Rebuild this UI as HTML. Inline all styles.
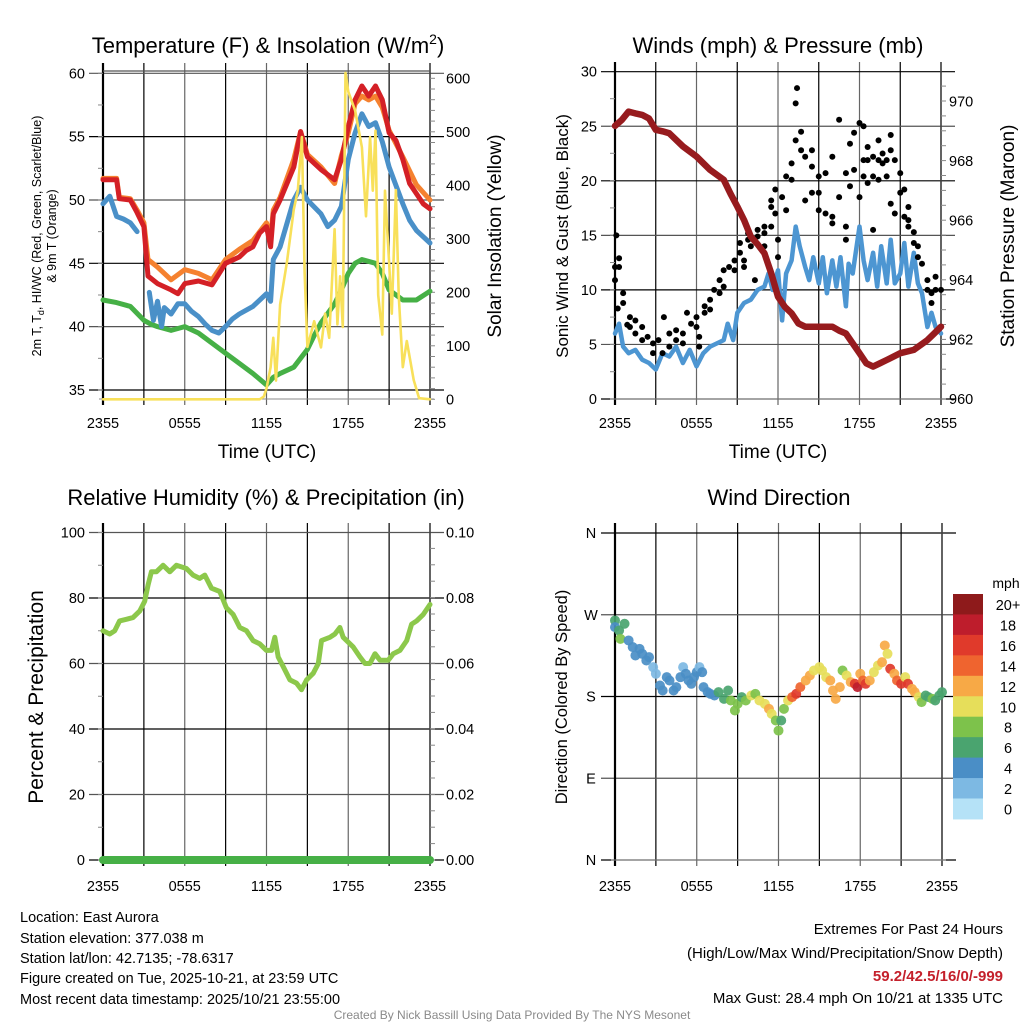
<!DOCTYPE html>
<html><head><meta charset="utf-8"><title>East Aurora Meteogram</title>
<style>
html,body{margin:0;padding:0;background:#fff;}
svg{display:block;font-family:"Liberation Sans",Arial,sans-serif;}
</style></head>
<body>
<svg id="chart" width="1024" height="1024" viewBox="0 0 1024 1024" xmlns="http://www.w3.org/2000/svg">
<rect x="0" y="0" width="1024" height="1024" fill="#fff"/>
<text x="268" y="53" font-size="22" text-anchor="middle">Temperature (F) &amp; Insolation (W/m<tspan dy="-9" font-size="14">2</tspan><tspan dy="9">)</tspan></text>
<text x="778" y="53" font-size="22" text-anchor="middle">Winds (mph) &amp; Pressure (mb)</text>
<text x="266" y="505" font-size="22" text-anchor="middle">Relative Humidity (%) &amp; Precipitation (in)</text>
<text x="779" y="505" font-size="22" text-anchor="middle">Wind Direction</text>
<g font-size="12.5">
<text transform="translate(41,236) rotate(-90)" text-anchor="middle">2m T, T<tspan dy="3" font-size="9">d</tspan><tspan dy="-3">, HI/WC (Red, Green, Scarlet/Blue)</tspan></text>
<text transform="translate(56,236) rotate(-90)" text-anchor="middle">&amp; 9m T (Orange)</text>
</g>
<text transform="translate(501,236) rotate(-90)" font-size="19" text-anchor="middle">Solar Insolation (Yellow)</text>
<text transform="translate(568,236) rotate(-90)" font-size="17" text-anchor="middle">Sonic Wind &amp; Gust (Blue, Black)</text>
<text transform="translate(1014,236) rotate(-90)" font-size="19" text-anchor="middle">Station Pressure (Maroon)</text>
<text transform="translate(43,697) rotate(-90)" font-size="21" text-anchor="middle">Percent &amp; Precipitation</text>
<text transform="translate(567,697) rotate(-90)" font-size="16.5" text-anchor="middle">Direction (Colored By Speed)</text>
<text x="267" y="458" font-size="19" text-anchor="middle">Time (UTC)</text>
<text x="778" y="458" font-size="19" text-anchor="middle">Time (UTC)</text>
<g font-size="14.5">
<text x="20" y="922">Location: East Aurora</text>
<text x="20" y="943">Station elevation: 377.038 m</text>
<text x="20" y="963">Station lat/lon: 42.7135; -78.6317</text>
<text x="20" y="983">Figure created on Tue, 2025-10-21, at 23:59 UTC</text>
<text x="20" y="1004">Most recent data timestamp: 2025/10/21 23:55:00</text>
</g>
<g font-size="15" text-anchor="end">
<text x="1003" y="934">Extremes For Past 24 Hours</text>
<text x="1003" y="958">(High/Low/Max Wind/Precipitation/Snow Depth)</text>
<text x="1003" y="981" fill="#c4202b" font-weight="bold">59.2/42.5/16/0/-999</text>
<text x="1003" y="1003">Max Gust: 28.4 mph On 10/21 at 1335 UTC</text>
</g>
<text x="512" y="1019" font-size="12" fill="#8a8a8a" text-anchor="middle">Created By Nick Bassill Using Data Provided By The NYS Mesonet</text>
<text x="1006" y="588" font-size="14" text-anchor="middle">mph</text>
</svg>
<script>
// ---------- DATA ----------
const tickLabelsX = ["2355","0555","1155","1755","2355"];
const tempTicks = [35,40,45,50,55,60];
const solarTicks = [0,100,200,300,400,500,600];
const windTicks = [0,5,10,15,20,25,30];
const pressTicks = [960,962,964,966,968,970];
const rhTicks = [0,20,40,60,80,100];
const precipTicks = ["0.00","0.02","0.04","0.06","0.08","0.10"];
const dirTickLabels = ["N","E","S","W","N"];
const speedBinLabels = ["0","2","4","6","8","10","12","14","16","18","20+"];
const speedBinColors = ["#b5e2f7","#7db9e3","#4a8ec6","#4aa46f","#7dc24b","#e6de5a","#f7a946","#ef642f","#e03a2b","#be1d2c","#8e1a1b"];

const redTimes = [0,1,1.2,2,2.5,3,3.3,4,5,5.5,6,7,8,9,10,10.5,11,11.5,12,12.3,12.5,13,14,14.5,15,16,17,17.5,18,18.5,19,19.5,20,20.5,21,21.5,22,22.5,23,23.5,24];
const redTemp = [51.6,51.6,50.1,50,49,47.9,44,43.4,42.9,42.6,43.4,43.6,43.3,45,45.5,46,46.3,47.4,47.9,46.3,48.9,50,52.6,55.4,53.4,52.4,51.6,53.2,55.8,57.9,59,58.2,59,57.9,55.3,54.7,53.2,51.3,50.5,49.7,49.3];
const orangeTimes = [0,1,1.2,2,2.5,3,3.3,4,5,6,7,8,9,10,11,12,12.3,12.5,13,14,14.5,15,16,17,17.5,18,18.5,19,19.5,20,20.5,21,22,23,24];
const orangeTemp = [51.7,51.7,50.2,50.1,49.2,48.2,45.3,44.7,43.7,44.5,44.2,43.7,45.3,46.1,46.8,48.2,47,49.2,50.2,53.2,55.4,53.6,52.6,51.3,53.5,55.3,57.6,58.2,57.9,58.2,57.3,55.5,53.4,51.2,50];
const blueTimes = [0,0.5,1,1.5,2,2.5,3.4,3.7,4,4.3,4.5,5,5.5,6,6.5,7,7.5,8,8.5,9,9.5,10,11,12,12.3,12.5,13,14,14.5,15,16,16.5,17,17.5,18,18.5,19,19.5,20,20.5,21,22,22.5,23,24];
const blueTemp = [49.7,50.3,48.7,48.5,48.2,47.5,42.7,40.5,42,40,41.5,41,41.8,41.8,41.2,40.8,40.2,39.7,39.5,40,40.6,41,41.6,42.6,42,45.3,46.3,50,51,50,48.9,47.9,48.4,49.5,53.2,55.3,56.8,55.8,56.1,54.6,52.6,49.7,48.4,47.6,46.6];
const greenTimes = [0,1,2,3,3.5,4,5,6,7,8,9,10,11,12,12.5,13,14,15,15.5,16,17,17.5,18,18.5,19,20,20.5,21,22,23,24];
const greenDew = [42.1,41.9,41.6,40.5,40.2,40,39.7,40,39.5,38.7,37.9,37.1,36.3,35.4,36,36.3,36.8,38.2,39.3,40.3,41.8,42.9,44.2,45,45.3,45,44.2,42.9,42.1,42.1,42.8];
const solarTimes = [0,11.5,11.8,12,12.3,12.5,12.7,13,13.5,14,14.3,14.6,14.8,15,15.5,16,16.3,16.6,17,17.2,17.4,17.6,17.8,18,18.5,19,19.3,19.6,19.8,20,20.2,20.5,20.7,21,21.2,21.5,21.7,22,22.3,22.8,23.2,24];
const solarVals = [0,0,5,20,60,115,35,177,256,355,390,490,238,98,146,97,160,115,318,140,230,135,610,575,540,471,342,490,390,502,195,121,390,256,160,391,195,60,109,36,2,0];

const windTimes = [0,0.3,0.6,1,1.5,2,2.5,3,3.5,4,4.5,5,5.5,6,6.5,7,7.5,8,8.3,8.7,9,9.5,10,10.5,11,11.3,11.6,12,12.3,12.6,13,13.3,13.6,14,14.3,14.6,15,15.3,15.6,16,16.3,16.6,17,17.2,17.5,18,18.3,18.6,19,19.3,19.6,20,20.3,20.6,21,21.3,21.6,22,22.3,22.6,23,23.3,23.6,24];
const windSpeed = [6.0,6.9,4.8,4.2,4.5,3.6,3.3,2.7,4.2,3.9,4.8,3.3,4.5,3.0,4.2,4.8,5.1,5.4,6.9,5.4,7.9,8.8,9.1,10.0,10.3,11.5,10.0,11.8,7.2,11.5,12.7,15.8,14.0,12.1,10.9,13.0,10.6,13.0,9.7,12.7,10.3,13.0,8.5,12.4,11.5,15.8,12.7,10.9,13.4,10.3,14.0,10.6,14.6,10.6,11.5,14.3,10.3,13.4,10.6,9.7,6.6,7.9,6.6,6.0];
const gustTimes = [0,0,0.1,0.2,0.3,0.3,0.6,0.6,0.9,1.1,1.1,1.5,1.5,2,2,2.4,2.8,2.8,3.2,3.5,3.6,4,4,4.5,4.5,5,5,5.3,5.6,6,6,6.2,6.2,6.6,6.6,7,7,7.3,7.7,7.7,8,8,8.4,8.8,8.8,9.2,9.2,9.5,9.5,9.8,9.8,10,10.3,10.5,10.5,11,11,11,11.5,11.5,11.5,11.8,11.8,12,12,12.3,12.6,12.6,13,13,13.3,13.3,13.4,13.7,13.7,14,14,14.5,14.5,14.5,15,15,15,15.5,15.5,16,16,16,16.5,16.5,17,17,17,17.3,17.3,17.6,17.6,18,18,18.3,18.3,18.3,18.6,18.6,18.6,19,19,19,19.4,19.4,19.4,19.7,19.7,20,20,20.3,20.3,20.3,20.6,20.6,21,21,21.3,21.3,21.6,21.6,21.6,22,22,22.3,22.3,22.6,23,23,23.3,23.3,23.6,23.6,24];
const gustSpeed = [12.1,10.9,15.0,8.3,12.9,12.1,9.7,8.8,6.8,7.5,6.6,7.2,6.0,6.6,5.4,5.7,5.1,4.2,5.4,4.2,7.5,6.0,4.8,5.4,6.3,5.1,6.0,7.9,6.9,7.5,6.6,5.7,4.8,8.5,7.9,9.1,8.2,10.0,10.9,9.7,11.8,10.3,12.1,12.7,11.8,14.3,13.4,12.7,12.1,15.2,14.6,14.0,10.9,15.5,14.9,15.8,15.2,14.0,18.2,17.6,15.8,19.2,17.0,14.6,13.0,18.5,20.4,17.3,21.6,20.1,23.7,27.1,28.5,24.5,22.8,22.2,18.2,21.3,22.8,18.9,20.4,18.9,17.3,17.0,20.7,16.7,16.1,22.2,18.5,25.6,20.7,15.8,14.6,23.4,19.5,24.4,21.0,25.3,18.5,25.0,21.9,20.4,23.1,21.9,19.8,22.2,20.4,15.5,23.7,21.9,20.1,21.6,22.5,20.4,21.9,24.2,22.8,17.9,21.9,17.0,18.9,20.7,19.2,16.7,17.6,16.4,15.8,15.3,14.3,14.0,13.0,12.4,10.0,10.9,9.7,8.8,11.2,10.0,10.0];
const pressTimes = [0,0.5,1,1.5,2,2.5,3,3.5,4,5,6,7,8,8.5,9,9.5,10,10.5,11,11.5,12,12.5,13,13.5,14,15,16,16.5,17,18,18.5,19,19.5,20,21,22,23,23.5,24];
const pressVals = [969.18,969.38,969.66,969.6,969.55,969.43,969.05,969.0,968.93,968.49,968.15,967.7,967.37,966.9,966.47,966.02,965.46,965.2,964.9,964.23,963.44,963.1,962.88,962.54,962.43,962.43,962.43,962.3,962.2,961.54,961.2,961.09,961.2,961.31,961.54,961.65,961.98,962.2,962.43];

const rhTimes = [0,0.49,0.86,1.22,1.71,2.2,2.69,3.06,3.31,3.55,3.92,4.41,4.9,5.39,6.12,6.61,7.1,7.47,7.96,8.57,9.06,9.55,10.04,10.53,11.02,11.51,12,12.37,12.61,12.86,13.23,13.72,14.2,14.57,14.94,15.43,15.8,16.04,16.65,17.02,17.39,17.63,18.37,18.86,19.23,19.59,19.96,20.33,20.94,21.31,21.8,22.29,22.65,23.02,23.51,24];
const rhVals = [70,69,70,73,73.5,74,76,79,84,88,88,90,88,90,89,87,86,87,83,82,77,75,71,70,67,66,64,64,68,62,59,55,54,52,55,57,60,67,68,69,71,68,65,62,60,60,63,61,61,63,64,67,72,73,75,78];
const precipTimes = [0,24];
const precipVals = [0,0];

const dirTimes = [0,0,0.3,0.4,0.7,1,1.3,1.5,1.8,2,2.3,2.5,2.8,3,3.3,3.5,3.8,4,4.3,4.5,4.8,5,5.2,5.4,5.6,5.8,6,6.2,6.4,6.5,6.8,7,7.3,7.6,8,8.3,8.5,8.8,9,9.3,9.6,10,10.3,10.6,11,11.3,11.5,11.8,12,12.2,12.4,12.7,13,13.3,13.6,14,14.3,14.6,15,15.2,15.5,15.8,16,16.2,16.5,16.7,17,17.3,17.6,17.8,18,18.2,18.4,18.7,19,19.3,19.6,19.8,20,20.2,20.5,20.7,21,21.3,21.5,21.8,22,22.3,22.5,22.8,23,23.3,23.5,23.8,24];
const dirDeg = [263.7,256.4,252.7,243.5,260.1,241.7,234.4,225.2,232.5,227,219.7,223.3,212.3,205,192.1,186.6,201.3,197.6,186.6,190.3,201.3,212.3,205,197.6,194,201.3,206.8,212.3,206.8,190.3,184.8,182.9,181.1,184.8,177.4,186.6,175.6,164.6,171.9,179.3,175.6,181.1,182.9,175.6,171.9,166.4,160.9,153.6,142.5,153.6,166.4,175.6,179.3,182.9,190.3,197.6,203.1,208.6,212.3,208.6,201.3,197.6,186.6,177.4,190.3,208.6,203.1,195.8,194,190.3,205,197.6,194,197.6,206.8,214.1,217.8,236.2,227,210.5,205,197.6,194,201.3,194,188.4,184.8,179.3,173.8,181.1,179.3,177.4,175.6,181.1,184.8];
const dirSpeed = [6,4,6,8,6,4,4,4,4,4,4,4,2,2,4,4,4,4,4,4,4,2,4,4,4,4,4,2,4,4,4,4,4,6,6,6,8,8,8,6,8,10,8,10,10,12,10,8,8,6,8,10,14,16,14,12,12,10,10,10,10,12,12,12,12,8,10,12,16,18,12,14,16,12,10,10,12,12,10,16,12,14,16,10,16,12,12,10,8,6,6,8,6,6,6];

// ---------- AXES ----------
const NS = "http://www.w3.org/2000/svg";
const svg = document.getElementById("chart");
function mk(tag, attrs, parent){ const e=document.createElementNS(NS,tag); for(const k in attrs) e.setAttribute(k,attrs[k]); (parent||svg).appendChild(e); return e; }

const P1 = {x0:103, x1:430, y0:73, y1:399};
const P2 = {x0:615, x1:941, y0:72, y1:399};
const P3 = {x0:103, x1:430, y0:533, y1:860};
const P4 = {x0:615, x1:942, y0:533, y1:860};
function xOf(P,t){ return P.x0 + t/24*(P.x1-P.x0); }
const yTemp = v => 73.3 + (60-v)*12.667;
const ySolar = v => 399.3 - v*0.535;
const yWind = v => 399 - v*10.91;
const yPress = v => 399 - (v-960)*29.75;
const yRH = v => 860 - v*3.275;
const yPrecip = v => 860 - v*3275;
const yDir = d => 860 - d*327/360;

function pathFrom(P, ts, vs, yf){ let d=""; for(let i=0;i<ts.length;i++){ d += (i?"L":"M") + xOf(P,ts[i]).toFixed(1) + "," + yf(vs[i]).toFixed(1); } return d; }

function grid(P, hVals, yf, name){
  const g = mk("g",{});
  
  
  for(let i=0;i<=8;i++){ const x=P.x0+i*(P.x1-P.x0)/8; mk("line",{x1:x,x2:x,y1:P.y0-10,y2:P.y1+6,stroke:(i%2? "#000":"#666"),"stroke-width":1.2},g); }
  hVals.forEach((v,i)=>{ const y=yf(v); mk("line",{x1:P.x0-14,x2:P.x1+14,y1:y,y2:y,stroke:(i%2?"#555":"#000"),"stroke-width":1.2},g); });
  mk("line",{x1:P.x0,x2:P.x0,y1:P.y0-10,y2:P.y1+6,stroke:"#000","stroke-width":2.2},g);
  mk("line",{x1:P.x1,x2:P.x1,y1:P.y0-10,y2:P.y1+6,stroke:"#444","stroke-width":1.6},g);
  mk("line",{x1:P.x0-4,x2:P.x1+4,y1:P.y1,y2:P.y1,stroke:"#888","stroke-width":1},g);
}
function xLabels(P,y,name){
  const g = mk("g",{"font-size":14.5,"text-anchor":"middle"});
  
  
  tickLabelsX.forEach((s,i)=>{ const t=mk("text",{x:xOf(P,i*6),y:y},g); t.textContent=s; });
}
function yLabels(vals, labels, x, yf, anchor, name){
  const g = mk("g",{"font-size":14.5,"text-anchor":anchor});
  
  
  vals.forEach((v,i)=>{ const t=mk("text",{x:x,y:yf(v)+5},g); t.textContent=labels[i]; });
}
function minorTicks(x, ya, yb, step, dir){
  const g = mk("g",{stroke:"#888","stroke-width":1});
  
  
  for(let y=yb; y>=ya-0.5; y-=step){ mk("line",{x1:x,x2:x+dir*5,y1:y,y2:y},g); }
}

// Panel 1
grid(P1, tempTicks, yTemp, "temperature");
mk("line",{x1:P1.x0,x2:P1.x1,y1:71,y2:71,stroke:"#555","stroke-width":1.2});
minorTicks(P1.x1, 78, 399.3, 10.7, 1);
minorTicks(P1.x0, 73, 390, 31.67, -1);
xLabels(P1, 428, "temperature");
yLabels(tempTicks, tempTicks.map(String), 85, yTemp, "end", "temperature-y-tick-labels");
yLabels(solarTicks, solarTicks.map(String), 446, ySolar, "start", "solar-y-tick-labels");

// Panel 2
grid(P2, windTicks, yWind, "winds");
minorTicks(P2.x1, 72, 399, 14.9, 1);
minorTicks(P2.x0, 72, 399, 27.3, -1);
xLabels(P2, 428, "winds");
yLabels(windTicks, windTicks.map(String), 597, yWind, "end", "wind-y-tick-labels");
yLabels(pressTicks, pressTicks.map(String), 949, yPress, "start", "pressure-y-tick-labels");

// Panel 3
grid(P3, rhTicks, yRH, "humidity");
minorTicks(P3.x1, 533, 860, 16.4, 1);
minorTicks(P3.x0, 533, 860, 32.75, -1);
xLabels(P3, 891, "humidity");
yLabels(rhTicks, rhTicks.map(String), 85, yRH, "end", "humidity-y-tick-labels");
yLabels(rhTicks, precipTicks, 446, yRH, "start", "precip-y-tick-labels");

// Panel 4
const dirVals = [0,90,180,270,360];
grid(P4, dirVals, yDir, "direction");
xLabels(P4, 891, "direction");
yLabels(dirVals, dirTickLabels, 591, yDir, "middle", "direction-y-tick-labels");

// ---------- SERIES ----------
function line(P, ts, vs, yf, color, w, name){
  const p = mk("path",{d:pathFrom(P,ts,vs,yf),fill:"none",stroke:color,"stroke-width":w,"stroke-linejoin":"round","stroke-linecap":"round"});
  
  
  return p;
}
line(P1, greenTimes, greenDew, yTemp, "#46b046", 5, "dewpoint-line");
line(P1, blueTimes.slice(0,6), blueTemp.slice(0,6), yTemp, "#4a90c8", 5, "heat-index-wind-chill-line-early");
line(P1, blueTimes.slice(6), blueTemp.slice(6), yTemp, "#4a90c8", 5, "heat-index-wind-chill-line");
line(P1, orangeTimes, orangeTemp, yTemp, "#f5812f", 5, "temperature-9m-line");
line(P1, redTimes, redTemp, yTemp, "#d42026", 5, "temperature-2m-line");
line(P1, solarTimes, solarVals, ySolar, "#f8e05a", 2.6, "solar-insolation-line");

line(P2, windTimes, windSpeed, yWind, "#4d96d2", 4.5, "sonic-wind-line");
const gg = mk("g",{fill:"#000"});


for(let i=0;i<gustTimes.length;i++){
  const c = mk("circle",{cx:xOf(P2,gustTimes[i]),cy:yWind(gustSpeed[i]),r:3},gg);
  
  
}
line(P2, pressTimes, pressVals, yPress, "#971b1e", 6.5, "station-pressure-line");

line(P3, rhTimes, rhVals, yRH, "#8cc84b", 5, "relative-humidity-line");
line(P3, precipTimes, precipVals, yPrecip, "#46b046", 8, "precipitation-line");

const dg = mk("g",{});


for(let i=0;i<dirTimes.length;i++){
  const idx = Math.min(10, Math.floor(dirSpeed[i]/2));
  const c = mk("circle",{cx:xOf(P4,dirTimes[i]),cy:yDir(dirDeg[i]),r:5,fill:speedBinColors[idx],"fill-opacity":0.92},dg);
  
  
}

// Colorbar
const cb = mk("g",{});


const cbTop = 594, cbH = 20.45;
for(let i=0;i<speedBinColors.length;i++){
  const k = speedBinColors.length-1-i;
  const r = mk("rect",{x:953,y:cbTop+i*cbH,width:30,height:cbH+0.5,fill:speedBinColors[k]},cb);
  
  
  const t = mk("text",{x:1008,y:cbTop+i*cbH+16,"font-size":14.5,"text-anchor":"middle"},cb);
  
  
  t.textContent = speedBinLabels[k];
}
</script>
</body></html>
